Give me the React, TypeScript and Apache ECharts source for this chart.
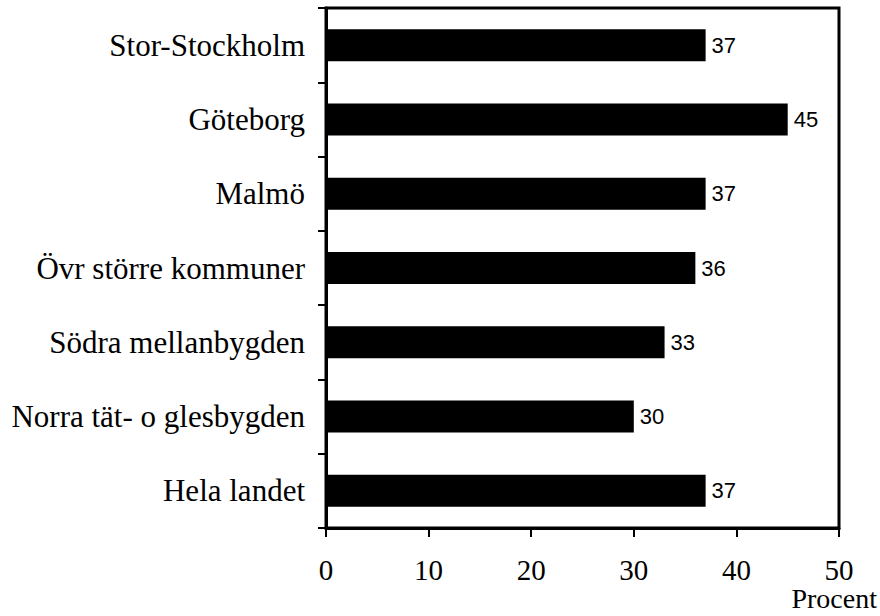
import React, { useEffect, useRef } from "react";
import * as echarts from "echarts";

const categories = [
  "Stor-Stockholm",
  "Göteborg",
  "Malmö",
  "Övr större kommuner",
  "Södra mellanbygden",
  "Norra tät- o glesbygden",
  "Hela landet",
];
const values = [37, 45, 37, 36, 33, 30, 37];
const xTicks = [0, 10, 20, 30, 40, 50];
const xUnit = "Procent";

export default function App() {
  const ref = useRef<HTMLDivElement>(null);
  useEffect(() => {
    if (!ref.current) return;
    const chart = echarts.init(ref.current, null, { renderer: "svg" });
    const serif = "'Liberation Serif', 'DejaVu Serif', serif";
    chart.setOption({
      animation: false,
      backgroundColor: "#ffffff",
      grid: {
        left: 326,
        top: 8,
        width: 513,
        height: 520,
        show: true,
        borderColor: "#000",
        borderWidth: 3,
        backgroundColor: "transparent",
      },
      xAxis: {
        type: "value",
        min: xTicks[0],
        max: xTicks[xTicks.length - 1],
        interval: 10,
        axisLine: { show: true, lineStyle: { color: "#000", width: 3 } },
        axisTick: { show: true, inside: false, length: 9, lineStyle: { color: "#000", width: 2 } },
        axisLabel: {
          color: "#000",
          fontFamily: serif,
          fontSize: 29,
          margin: 27,
        },
        splitLine: { show: false },
      },
      yAxis: {
        type: "category",
        data: categories,
        inverse: true,
        axisLine: { show: true, lineStyle: { color: "#000", width: 3 } },
        axisTick: { show: true, inside: false, length: 8, alignWithLabel: false, lineStyle: { color: "#000", width: 2 } },
        axisLabel: {
          color: "#000",
          fontFamily: serif,
          fontSize: 31,
          margin: 21,
        },
        splitLine: { show: false },
      },
      graphic: [
        {
          type: "text",
          right: 3,
          top: 584,
          style: {
            text: xUnit,
            fill: "#000",
            fontFamily: serif,
            fontSize: 28,
          },
        },
      ],
      series: [
        {
          type: "bar",
          data: values,
          barWidth: 32,
          itemStyle: { color: "#000" },
          label: {
            show: true,
            position: "right",
            distance: 6,
            color: "#000",
            fontFamily: "'Liberation Sans', sans-serif",
            fontSize: 22,
          },
        },
      ],
    });
    return () => chart.dispose();
  }, []);
  return <div ref={ref} style={{ width: 880, height: 616, position: "absolute", left: 0, top: 0 }} />;
}
